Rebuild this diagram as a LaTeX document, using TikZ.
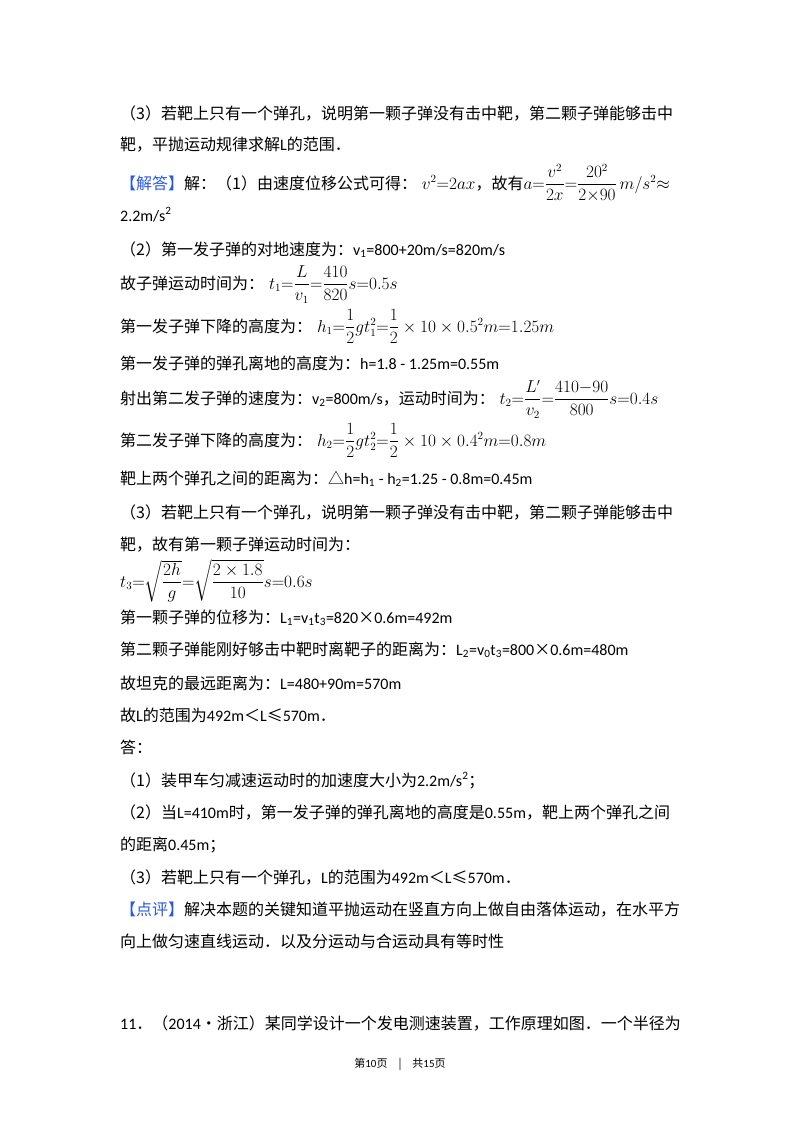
\documentclass[tikz,border=0pt]{standalone}
\usepackage{amsmath}
\usepackage{fontspec}
\setmainfont{Carlito}
\newfontfamily\cjk{Noto Sans CJK SC}
\definecolor{hl}{RGB}{40,90,230}
\begin{document}
\begin{tikzpicture}[x=1pt,y=-1pt,
  ln/.style={anchor=base west,inner sep=0pt,font=\fontsize{16}{18}\selectfont}]
\useasboundingbox[fill=white] (0,0) rectangle (800,1132);
\newcommand\cj[1]{{\cjk #1}}
\node[ln] (a1) at (120,119) {\cj{（3）若靶上只有一个弹孔，说明第一颗子弹没有击中靶，第二颗子弹能够击中}};
\node[ln] (a2) at (120,150) {\cj{靶，平抛运动规律求解}L\cj{的范围．}};
\node[ln] (a3) at (120,189) {\cj{\color{hl}【解答】}\cj{解：（1）由速度位移公式可得：}$\;v^2{=}2ax$\cj{，故有}$a{=}\dfrac{v^2}{2x}{=}\dfrac{20^2}{2{\times}90}\,m/s^2{\approx}$};
\node[ln] (a4) at (120,221) {2.2m/s\textsuperscript{2}};
\node[ln] (a5) at (120,255) {\cj{（2）第一发子弹的对地速度为：}v\textsubscript{1}=800+20m/s=820m/s};
\node[ln] (a6) at (120,289) {\cj{故子弹运动时间为：}$\;t_1{=}\dfrac{L}{v_1}{=}\dfrac{410}{820}s{=}0.5s$};
\node[ln] (a7) at (120,332) {\cj{第一发子弹下降的高度为：}$\;h_1{=}\dfrac12gt_1^2{=}\dfrac12\times10\times0.5^2m{=}1.25m$};
\node[ln] (a8) at (120,369) {\cj{第一发子弹的弹孔离地的高度为：}h=1.8 - 1.25m=0.55m};
\node[ln] (a9) at (120,404) {\cj{射出第二发子弹的速度为：}v\textsubscript{2}=800m/s\cj{，运动时间为：}$\; t_2{=}\dfrac{L'}{v_2}{=}\dfrac{410{-}90}{800}s{=}0.4s$};
\node[ln] (a10) at (120,446) {\cj{第二发子弹下降的高度为：}$\;h_2{=}\dfrac12gt_2^2{=}\dfrac12\times10\times0.4^2m{=}0.8m$};
\node[ln] (a11) at (120,484) {\cj{靶上两个弹孔之间的距离为：}\cj{△}h=h\textsubscript{1} - h\textsubscript{2}=1.25 - 0.8m=0.45m};
\node[ln] (a12) at (120,518) {\cj{（3）若靶上只有一个弹孔，说明第一颗子弹没有击中靶，第二颗子弹能够击中}};
\node[ln] (a13) at (120,550) {\cj{靶，故有第一颗子弹运动时间为：}};
\node[ln] (a14) at (120,587) {$t_3{=}\sqrt{\dfrac{2h}{g}}{=}\sqrt{\dfrac{2\times1.8}{10}}s{=}0.6s$};
\node[ln] (a15) at (120,623) {\cj{第一颗子弹的位移为：}L\textsubscript{1}=v\textsubscript{1}t\textsubscript{3}=820\cj{×}0.6m=492m};
\node[ln] (a16) at (120,655) {\cj{第二颗子弹能刚好够击中靶时离靶子的距离为：}L\textsubscript{2}=v\textsubscript{0}t\textsubscript{3}=800\cj{×}0.6m=480m};
\node[ln] (a17) at (120,689) {\cj{故坦克的最远距离为：}L=480+90m=570m};
\node[ln] (a18) at (120,721) {\cj{故}L\cj{的范围为}492m\cj{＜}L\cj{≤}570m\cj{．}};
\node[ln] (a19) at (120,753) {\cj{答：}};
\node[ln] (a20) at (120,786) {\cj{（1）装甲车匀减速运动时的加速度大小为}2.2m/s\textsuperscript{2}\cj{；}};
\node[ln] (a21) at (120,818) {\cj{（2）当}L=410m\cj{时，第一发子弹的弹孔离地的高度是}0.55m\cj{，靶上两个弹孔之间}};
\node[ln] (a22) at (120,850) {\cj{的距离}0.45m\cj{；}};
\node[ln] (a23) at (120,883) {\cj{（3）若靶上只有一个弹孔，}L\cj{的范围为}492m\cj{＜}L\cj{≤}570m\cj{．}};
\node[ln] (a24) at (120,915) {\cj{\color{hl}【点评】}\cj{解决本题的关键知道平抛运动在竖直方向上做自由落体运动，在水平方}};
\node[ln] (a25) at (120,947) {\cj{向上做匀速直线运动．以及分运动与合运动具有等时性}};
\node[ln] (a26) at (120,1029) {11\cj{．（}2014\cj{•浙江）某同学设计一个发电测速装置，工作原理如图．一个半径为}};
\node[anchor=base,inner sep=0pt,font=\fontsize{11}{12}\selectfont] (ft) at (400,1067) {\cj{第}10\cj{页\quad|\quad 共}15\cj{页}};
\end{tikzpicture}
\end{document}
